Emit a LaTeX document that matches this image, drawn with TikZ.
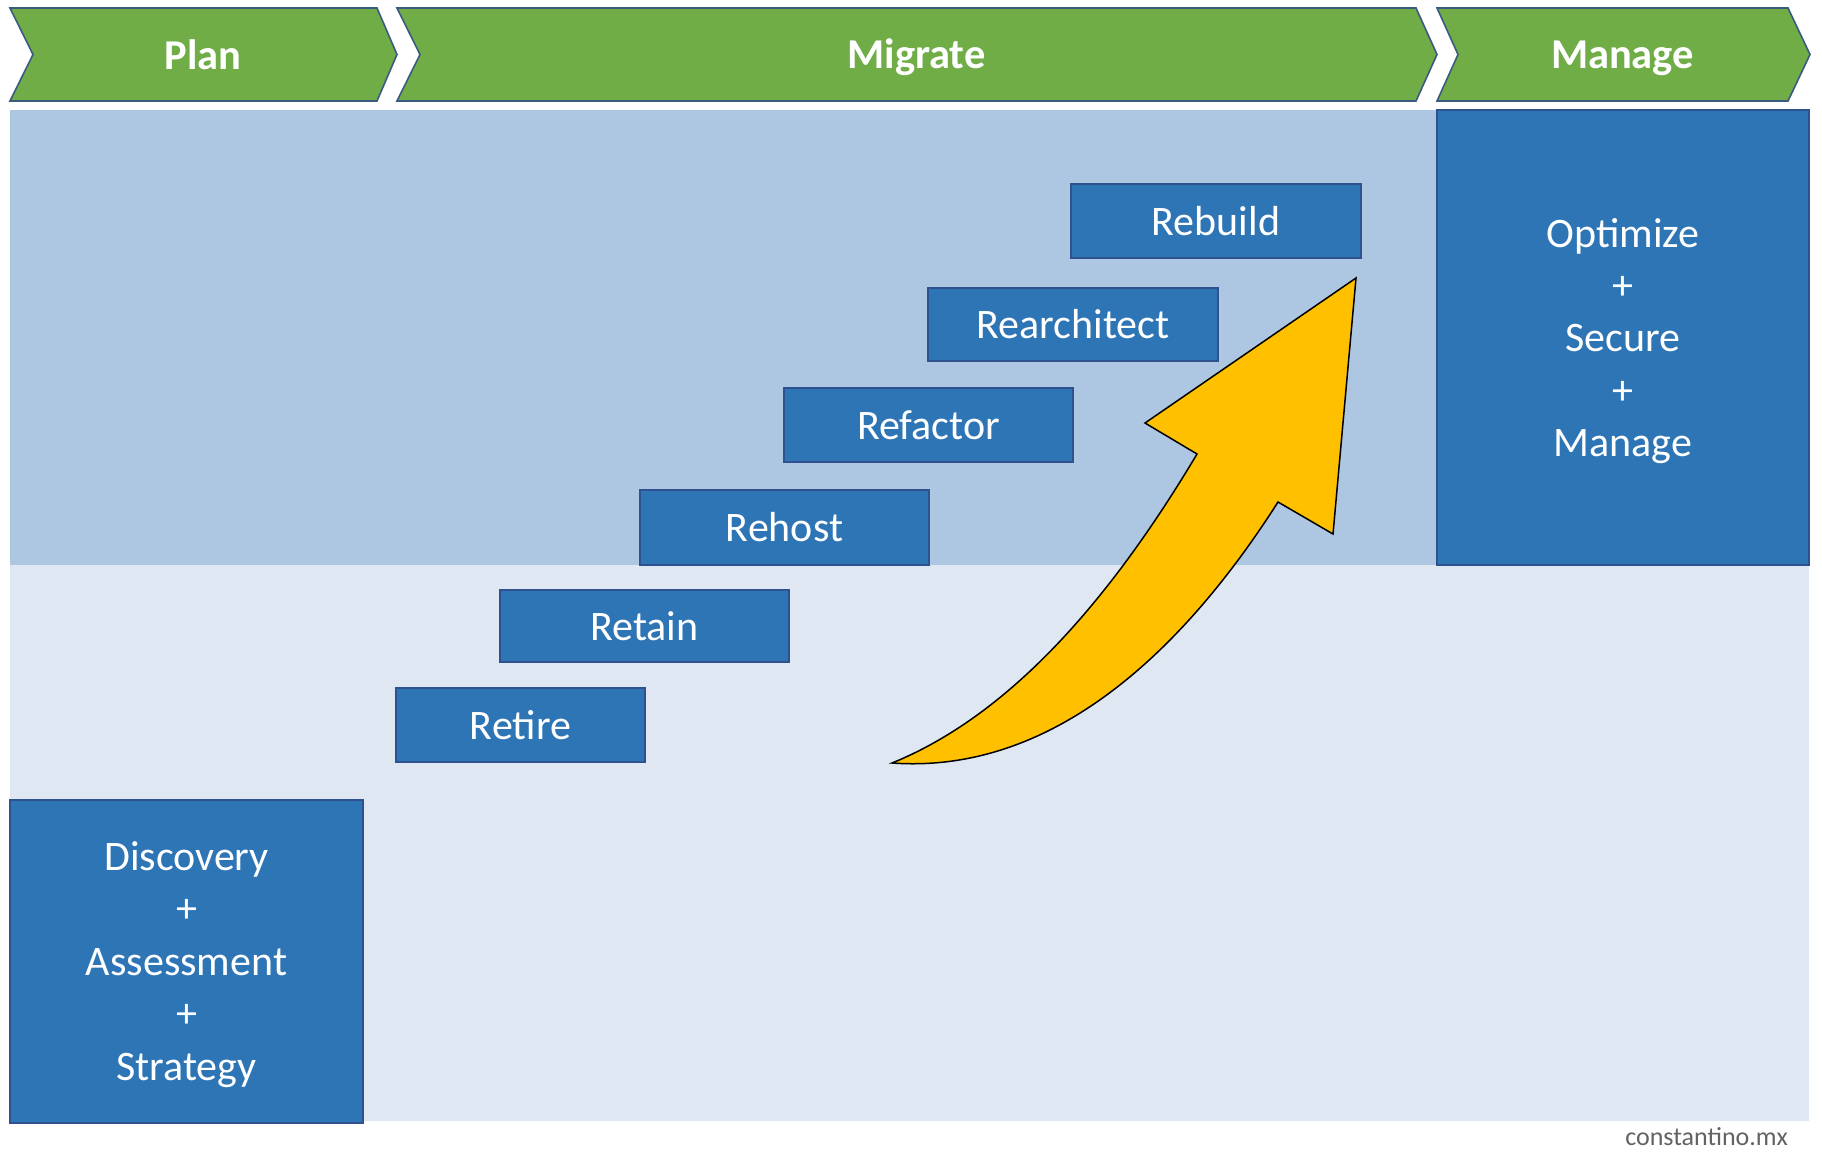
\documentclass[tikz,border=0pt]{standalone}
\usepackage{fontspec}
\setmainfont{Carlito}
\definecolor{chevgreen}{HTML}{70AD47}
\definecolor{chevline}{HTML}{3B5A80}
\definecolor{boxblue}{HTML}{2E75B6}
\definecolor{boxline}{HTML}{2F528F}
\definecolor{bandup}{HTML}{ADC6E2}
\definecolor{banddown}{HTML}{DFE7F2}
\definecolor{arrowyellow}{HTML}{FFC000}
\definecolor{markgray}{HTML}{636363}
\tikzset{
  chev/.style={fill=chevgreen, draw=chevline, line width=1.6pt, line join=miter},
  chevlabel/.style={text=white, font=\fontsize{42.5}{50}\selectfont\bfseries, inner sep=0pt, anchor=base},
  stepbox/.style={fill=boxblue, draw=boxline, line width=1.3pt, text=white,
    font=\fontsize{42}{52}\selectfont, inner sep=0pt},
  bigbox/.style={fill=boxblue, draw=boxline, line width=1.3pt, inner sep=0pt},
  boxtext/.style={text=white, font=\fontsize{42}{52.4}\selectfont, align=center, inner sep=0pt},
}
\begin{document}
\begin{tikzpicture}[x=1pt, y=-1pt]
\useasboundingbox (0,0) rectangle (1822,1168);
\fill[white] (0,0) rectangle (1822,1168);
% bands
\fill[bandup] (10,110) rectangle (1809,565);
\fill[banddown] (10,565) rectangle (1809,1121);
% chevrons
\draw[chev] (10,8) -- (377,8) -- (397,54.5) -- (377,101) -- (10,101) -- (33,54.5) -- cycle;
\draw[chev] (397,8) -- (1416,8) -- (1437,54.5) -- (1416,101) -- (397,101) -- (420,54.5) -- cycle;
\draw[chev] (1437,8) -- (1788,8) -- (1810,54.5) -- (1788,101) -- (1437,101) -- (1458,54.5) -- cycle;
\node[chevlabel] (plan) at (203,69) {Plan};
\node[chevlabel] (migrate) at (916.5,68.5) {Migrate};
\node[chevlabel] (manage) at (1622.5,68.5) {Manage};
% big boxes
\node[bigbox, minimum width=372pt, minimum height=455pt] (osm) at (1623,337.5) {};
\node[boxtext] (osmtext) at (1623,341) {Optimize\\+\\Secure\\+\\Manage};
\node[bigbox, minimum width=353pt, minimum height=323pt] (das) at (186.5,961.5) {};
\node[boxtext] (dastext) at (186.5,964.5) {Discovery\\+\\Assessment\\+\\Strategy};
% step boxes
\node[stepbox, minimum width=290pt, minimum height=74pt] (rebuild) at (1216,221) {Rebuild};
\node[stepbox, minimum width=290pt, minimum height=73pt] (rearch) at (1073,324.5) {Rearchitect};
\node[stepbox, minimum width=289pt, minimum height=74pt] (refactor) at (928.5,425) {Refactor};
\node[stepbox, minimum width=289pt, minimum height=75pt] (rehost) at (784.5,527.5) {Rehost};
\node[stepbox, minimum width=289pt, minimum height=72pt] (retain) at (644.5,626) {Retain};
\node[stepbox, minimum width=249pt, minimum height=74pt] (retire) at (520.5,725) {Retire};
% curved arrow
\draw[fill=arrowyellow, draw=black, line width=1.5pt, line join=miter]
  (1356,278) -- (1333,534) -- (1278,502)
  .. controls (1190,640) and (1060,775) .. (892,763)
  .. controls (1010,715) and (1110,600) .. (1197,454)
  -- (1145,423) -- cycle;
% watermark
\node[anchor=base east, text=markgray, font=\fontsize{26}{30}\selectfont, inner sep=0pt]
  (mark) at (1788,1145) {constantino.mx};
\end{tikzpicture}
\end{document}
